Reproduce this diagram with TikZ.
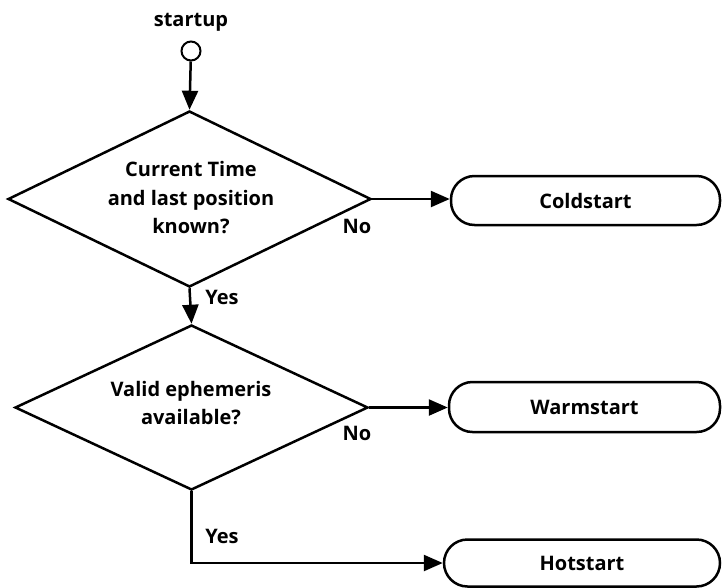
\documentclass[tikz,border=0pt]{standalone}
\usepackage{fontspec}
\setmainfont{Open Sans}
\usetikzlibrary{arrows.meta,shapes.geometric}
\begin{document}
\begin{tikzpicture}[x=1pt,y=-1pt,
  line width=2.5pt,
  every node/.style={font=\fontsize{20}{28.5}\selectfont\bfseries},
  decision/.style={draw,diamond,inner sep=0pt,align=center},
  terminal/.style={draw,rectangle,rounded corners=23.5pt,inner sep=0pt},
  flow/.style={-{Triangle[length=19pt,width=16pt]}},
  lbl/.style={inner sep=0pt}]
  \useasboundingbox (0,0) rectangle (722,587);

  % start marker
  \node[lbl] (st) at (191,22) {startup};
  \node[draw,circle,minimum size=19pt,inner sep=0pt,line width=2pt] (start) at (191,51) {};

  % decisions
  \node[decision,minimum width=363pt,minimum height=176pt] (d1) at (189.5,199) {};
  \node[lbl,align=center] (t1) at (191,198) {Current Time\\and last position\\known?};
  \node[decision,minimum width=353pt,minimum height=165pt] (d2) at (191.5,407.5) {};
  \node[lbl,align=center] (t2) at (191,403) {Valid ephemeris\\available?};

  % outcomes
  \node[terminal,minimum width=269pt,minimum height=49pt] (cold) at (585.5,200.5) {Coldstart};
  \node[terminal,minimum width=271pt,minimum height=50pt] (warm) at (584.5,407) {Warmstart};
  \node[terminal,minimum width=276pt,minimum height=47pt] (hot) at (582,563) {Hotstart};

  % connectors
  \draw[flow] (start) -- (d1.north);
  \draw[flow] (d1.east) -- (d1.east -| cold.west);
  \draw[flow] (d1.south) -- (d2.north);
  \draw[flow] (d2.east) -- (d2.east -| warm.west);
  \coordinate (corner) at (d2.south |- hot.west);
  \draw[flow] (d2.south) -- (corner) -- (hot.west);

  % branch labels
  \node[lbl] (no1) at (357,226) {No};
  \node[lbl] (yes1) at (222,297) {Yes};
  \node[lbl] (no2) at (357,433) {No};
  \node[lbl] (yes2) at (222,536) {Yes};
\end{tikzpicture}
\end{document}
